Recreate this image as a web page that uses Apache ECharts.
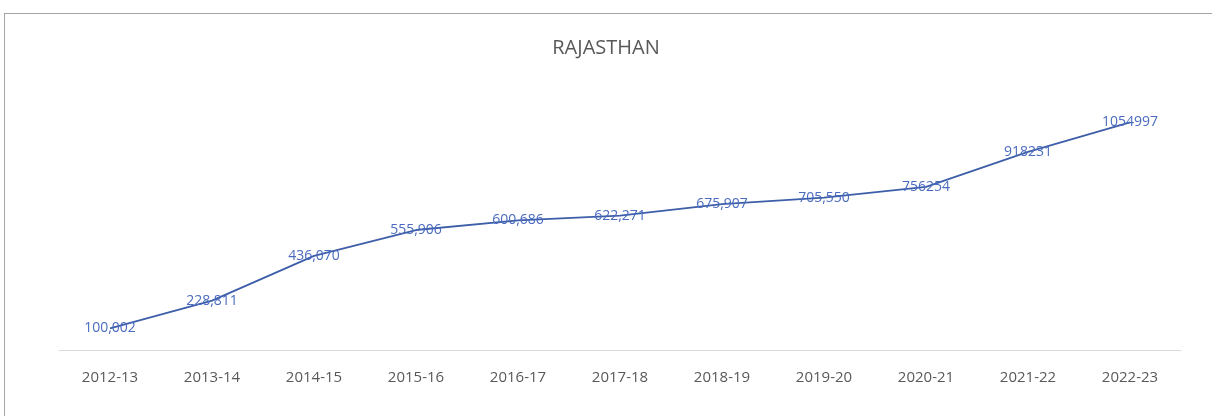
<!DOCTYPE html>
<html><head><meta charset="utf-8">
<script src="https://cdn.jsdelivr.net/npm/echarts@6/dist/echarts.min.js"></script>
<style>
html,body{margin:0;padding:0;background:#fff;}
#frame{position:absolute;left:4px;top:13px;width:1220px;height:420px;border:1px solid #a6a6a6;box-sizing:border-box;}
#c{position:absolute;left:0;top:0;width:1212px;height:416px;}
</style></head>
<body>
<div id="frame"></div>
<div id="c"></div>
<script>
const categories = ['2012-13','2013-14','2014-15','2015-16','2016-17','2017-18','2018-19','2019-20','2020-21','2021-22','2022-23'];
const values = [100002, 228811, 436070, 555906, 600686, 622271, 675907, 705550, 756254, 918231, 1054997];
const labelTexts = ['100,002','228,811','436,070','555,906','600,686','622,271','675,907','705,550','756254','918231','1054997'];

const chart = echarts.init(document.getElementById('c'));
chart.setOption({
  animation: false,
  title: {
    text: 'RAJASTHAN', left: 'center', top: 33,
    textStyle: {color: '#595959', fontSize: 20, fontWeight: 'normal', fontFamily: 'Open Sans'}
  },
  grid: {left: 59, right: 31, top: 91, bottom: 66},
  xAxis: {
    type: 'category', data: categories, boundaryGap: true,
    axisLine: {lineStyle: {color: '#d9d9d9', width: 1}},
    axisTick: {show: false},
    axisLabel: {color: '#595959', fontSize: 15, margin: 20, fontFamily: 'Open Sans'}
  },
  yAxis: {
    type: 'value', min: 0, max: 1200000, show: false,
    splitLine: {show: false}
  },
  series: [{
    type: 'line', data: values, symbol: 'circle', symbolSize: 1, showSymbol: true,
    itemStyle: {color: 'rgba(0,0,0,0)'},
    lineStyle: {color: '#3d5ea8', width: 1.8},
    label: {
      show: true, position: 'inside', color: '#4a6bbf', fontSize: 14, fontFamily: 'Open Sans',
      formatter: p => labelTexts[p.dataIndex]
    }
  }]
});
</script>
</body></html>
